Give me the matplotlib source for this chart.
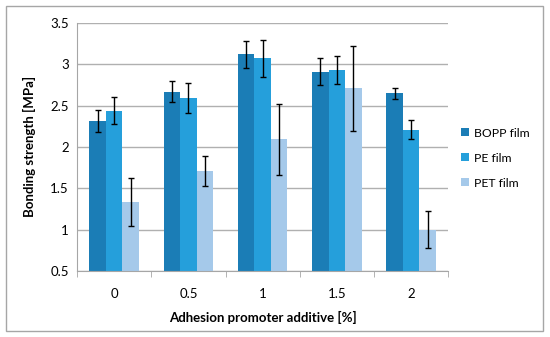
import numpy as np
import matplotlib
matplotlib.use("Agg")
import matplotlib.pyplot as plt
from matplotlib.patches import Rectangle

plt.rcParams['font.family'] = ['Lato', 'DejaVu Sans']

# data
categories = ["0", "0.5", "1", "1.5", "2"]
series = ["BOPP film", "PE film", "PET film"]
bopp = [2.31, 2.67, 3.12, 2.91, 2.65]
pe = [2.44, 2.59, 3.07, 2.93, 2.21]
pet = [1.33, 1.71, 2.09, 2.71, 1.00]
bopp_err = [0.135, 0.13, 0.16, 0.165, 0.065]
pe_err = [0.16, 0.185, 0.225, 0.165, 0.11]
pet_err = [0.29, 0.18, 0.43, 0.515, 0.225]

colors = ["#1b7db6", "#259fdb", "#a5c9ea"]

fig = plt.figure(figsize=(5.5, 3.37), dpi=100)
ax = fig.add_axes([0.14, 0.196, 0.675, 0.736])

# outer frame like the spreadsheet chart area
fig.patches.append(Rectangle((6 / 550, 6 / 337), 537 / 550, 325 / 337,
                             transform=fig.transFigure, fill=False,
                             edgecolor="#a6a6a6", lw=1))

x = np.arange(len(categories))
w = 0.222
vals = [bopp, pe, pet]
errs = [bopp_err, pe_err, pet_err]
for i in range(3):
    ax.bar(x + (i - 1) * w, np.array(vals[i]) - 0.5, w, bottom=0.5,
           color=colors[i], label=series[i], zorder=2)
    ax.errorbar(x + (i - 1) * w, vals[i], yerr=errs[i], fmt="none",
                ecolor="black", elinewidth=1, capsize=2.5, capthick=1, zorder=3)

ax.set_xlim(-0.5, 4.5)
ax.set_ylim(0.5, 3.5)
ax.set_yticks([0.5, 1, 1.5, 2, 2.5, 3, 3.5])
ax.set_yticklabels(["0.5", "1", "1.5", "2", "2.5", "3", "3.5"])
ax.set_xticks(x)
ax.set_xticklabels(categories)
ax.set_xticks(np.arange(-0.5, 5, 1), minor=True)
ax.tick_params(axis="x", which="major", length=0, pad=12, labelsize=9.5)
ax.tick_params(axis="x", which="minor", length=4, color="#a6a6a6", direction="out")
ax.tick_params(axis="y", length=0, pad=6, labelsize=9.5)

ax.grid(axis="y", color="#b0b0b0", lw=1, zorder=0)
ax.set_axisbelow(True)
for s in ["top", "right"]:
    ax.spines[s].set_visible(False)
ax.spines["left"].set_color("#a6a6a6")
ax.spines["bottom"].set_color("#a6a6a6")

ax.set_xlabel("Adhesion promoter additive [%]", fontweight="bold", fontsize=9.5, labelpad=8)
ax.set_ylabel("Bonding strength [MPa]", fontweight="bold", fontsize=9.5, labelpad=10)

ax.legend(loc="center left", bbox_to_anchor=(1.035, 0.455), frameon=False,
          fontsize=8.8, handlelength=0.65, handleheight=0.65, labelspacing=1.15,
          handletextpad=0.4, borderpad=0, borderaxespad=0)

fig.savefig("out.png", dpi=100)
